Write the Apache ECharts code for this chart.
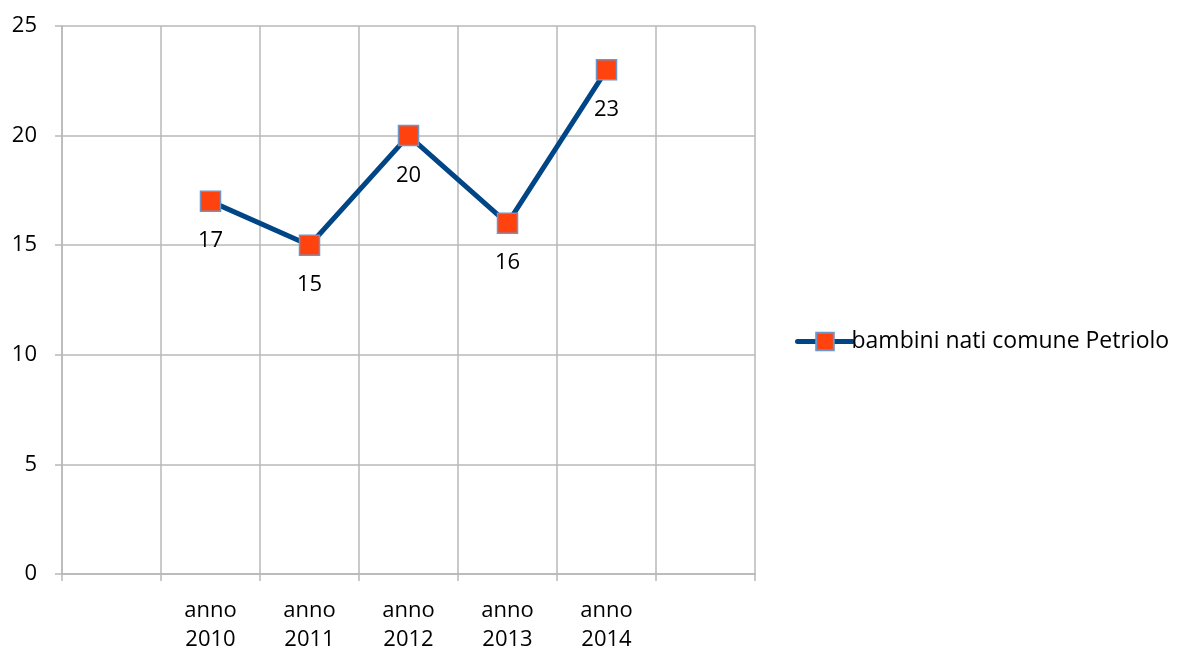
<!DOCTYPE html>
<html>
<head>
<meta charset="utf-8">
<script src="https://cdn.jsdelivr.net/npm/echarts@6/dist/echarts.min.js"></script>
<style>
  html, body { margin: 0; padding: 0; background: #fff; }
  #chart { width: 1178px; height: 654px; }
</style>
</head>
<body>
<div id="chart"></div>
<script>
// Categories (empty slots at both ends pad the axis)
const categories = ['', 'anno\n2010', 'anno\n2011', 'anno\n2012', 'anno\n2013', 'anno\n2014', ''];
// Births per year
const births = [null, 17, 15, 20, 16, 23, null];
const seriesName = 'bambini nati comune Petriolo';
const yTicks = { min: 0, max: 25, interval: 5 };

const FONT = '"Open Sans", "Noto Sans", sans-serif';
const GRID_COLOR = '#b8b8b8';
const LINE_COLOR = '#004586';

const chart = echarts.init(document.getElementById('chart'), null, { renderer: 'canvas' });
chart.setOption({
  animation: false,
  backgroundColor: '#ffffff',
  textStyle: { fontFamily: FONT },
  grid: { left: 62, top: 26, width: 693, height: 550, containLabel: false },
  legend: {
    left: 790, top: 325,
    itemWidth: 55, itemHeight: 22,
    itemGap: 0,
    lineStyle: { width: 5, color: LINE_COLOR, cap: 'round' },
    textStyle: { fontFamily: FONT, fontSize: 23, color: '#000', padding: [0, 0, 0, -6] },
    data: [seriesName]
  },
  xAxis: {
    type: 'category',
    data: categories,
    boundaryGap: true,
    axisLine: { show: true, lineStyle: { color: GRID_COLOR, width: 1.5 } },
    axisTick: { show: true, length: 7, lineStyle: { color: GRID_COLOR, width: 1.5 }, interval: 0 },
    axisLabel: { interval: 0, color: '#000', fontSize: 22, fontFamily: FONT, lineHeight: 29, margin: 22 },
    splitLine: { show: true, interval: 0, lineStyle: { color: GRID_COLOR, width: 1.5 } }
  },
  yAxis: {
    type: 'value',
    min: yTicks.min, max: yTicks.max, interval: yTicks.interval,
    axisLine: { show: true, lineStyle: { color: GRID_COLOR, width: 1.5 } },
    axisTick: { show: true, length: 7, lineStyle: { color: GRID_COLOR, width: 1.5 } },
    axisLabel: { color: '#000', fontSize: 22, fontFamily: FONT, margin: 25 },
    splitLine: { show: true, lineStyle: { color: GRID_COLOR, width: 1.5 } }
  },
  series: [{
    name: seriesName,
    type: 'line',
    data: births,
    connectNulls: false,
    symbol: 'rect',
    symbolSize: 20,
    lineStyle: { color: LINE_COLOR, width: 5 },
    itemStyle: { color: '#ff420e', borderColor: '#6d95c6', borderWidth: 1.5 },
    label: {
      show: true, position: 'bottom', distance: 18,
      color: '#000', fontSize: 22, fontFamily: FONT
    }
  }]
});
</script>
</body>
</html>
